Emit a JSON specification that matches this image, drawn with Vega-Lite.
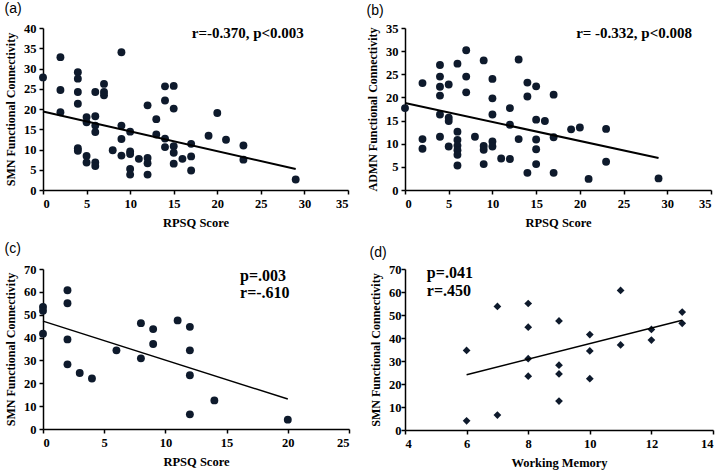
{
  "$schema": "https://vega.github.io/schema/vega-lite/v6.json",
  "background": "white",
  "padding": {"left": 4, "top": 2, "right": 1, "bottom": 1},
  "columns": 2,
  "spacing": {"row": 13, "column": 16},
  "datasets": {
    "a": [
      {"x":0,"y":27.8},{"x":2,"y":32.8},{"x":2,"y":24.7},{"x":2,"y":19.2},
      {"x":4,"y":29.1},{"x":4,"y":27.5},{"x":4,"y":24.2},{"x":4,"y":21.3},{"x":4,"y":10.3},{"x":4,"y":9.7},
      {"x":5,"y":18.0},{"x":5,"y":16.7},{"x":5,"y":8.4},{"x":5,"y":6.8},
      {"x":6,"y":24.2},{"x":6,"y":18.2},{"x":6,"y":15.9},{"x":6,"y":14.3},{"x":6,"y":6.8},{"x":6,"y":5.9},
      {"x":7,"y":26.2},{"x":7,"y":24.2},{"x":7,"y":23.4},{"x":8,"y":9.8},
      {"x":9,"y":34.0},{"x":9,"y":15.9},{"x":9,"y":12.6},{"x":9,"y":8.5},
      {"x":10,"y":14.4},{"x":10,"y":9.5},{"x":10,"y":8.9},{"x":10,"y":5.2},{"x":10,"y":3.8},
      {"x":11,"y":7.7},{"x":12,"y":20.9},{"x":12,"y":7.9},{"x":12,"y":6.6},{"x":12,"y":3.8},
      {"x":13,"y":17.5},{"x":13,"y":13.7},
      {"x":14,"y":25.6},{"x":14,"y":22.1},{"x":14,"y":12.7},{"x":14,"y":10.6},
      {"x":15,"y":25.7},{"x":15,"y":20.1},{"x":15,"y":10.8},{"x":15,"y":9.2},{"x":15,"y":6.5},
      {"x":16,"y":7.7},{"x":17,"y":11.4},{"x":17,"y":8.3},{"x":17,"y":4.8},
      {"x":19,"y":13.4},{"x":20,"y":19.0},{"x":21,"y":12.4},{"x":23,"y":11.0},{"x":23,"y":7.5},{"x":29,"y":2.6}
    ],
    "a_fit": [{"x":0,"y":19.4},{"x":29,"y":5.2}],
    "b": [
      {"x":0,"y":17.7},{"x":2,"y":23.1},{"x":2,"y":11.0},{"x":2,"y":8.9},
      {"x":4,"y":27.0},{"x":4,"y":24.5},{"x":4,"y":22.3},{"x":4,"y":20.4},{"x":4,"y":16.3},{"x":4,"y":11.5},
      {"x":5,"y":22.8},{"x":5,"y":15.6},{"x":5,"y":14.9},{"x":5,"y":9.4},
      {"x":6,"y":27.3},{"x":6,"y":12.6},{"x":6,"y":10.8},{"x":6,"y":9.6},{"x":6,"y":8.6},{"x":6,"y":7.6},{"x":6,"y":5.3},
      {"x":7,"y":30.2},{"x":7,"y":24.5},{"x":7,"y":21.1},{"x":8,"y":11.5},
      {"x":9,"y":28.0},{"x":9,"y":9.5},{"x":9,"y":8.7},{"x":9,"y":5.6},
      {"x":10,"y":24.0},{"x":10,"y":19.8},{"x":10,"y":16.3},{"x":10,"y":10.5},{"x":10,"y":9.4},
      {"x":11,"y":6.8},{"x":12,"y":17.7},{"x":12,"y":14.1},{"x":12,"y":6.7},
      {"x":13,"y":28.2},{"x":13,"y":11.0},
      {"x":14,"y":23.2},{"x":14,"y":20.2},{"x":14,"y":3.7},
      {"x":15,"y":22.4},{"x":15,"y":15.2},{"x":15,"y":10.9},{"x":15,"y":8.8},{"x":15,"y":5.6},
      {"x":16,"y":14.9},{"x":17,"y":20.6},{"x":17,"y":11.4},{"x":17,"y":3.7},
      {"x":19,"y":13.1},{"x":20,"y":13.5},{"x":21,"y":2.4},{"x":23,"y":13.2},{"x":23,"y":6.1},{"x":29,"y":2.5}
    ],
    "b_fit": [{"x":0,"y":18.8},{"x":29,"y":6.9}],
    "c": [
      {"x":0,"y":53.4},{"x":0,"y":51.7},{"x":0,"y":41.7},
      {"x":2,"y":60.7},{"x":2,"y":55.0},{"x":2,"y":39.2},{"x":2,"y":28.3},
      {"x":3,"y":24.5},{"x":4,"y":22.1},{"x":6,"y":34.4},
      {"x":8,"y":46.3},{"x":8,"y":30.9},{"x":9,"y":43.7},{"x":9,"y":37.2},
      {"x":11,"y":47.5},{"x":12,"y":44.7},{"x":12,"y":34.4},{"x":12,"y":23.5},{"x":12,"y":6.4},
      {"x":14,"y":12.5},{"x":20,"y":4.1}
    ],
    "c_fit": [{"x":0,"y":47.2},{"x":20,"y":13.1}],
    "d": [
      {"x":6,"y":34.6},{"x":6,"y":4.0},{"x":7,"y":53.7},{"x":7,"y":6.5},
      {"x":8,"y":55.0},{"x":8,"y":44.7},{"x":8,"y":31.0},{"x":8,"y":23.4},
      {"x":9,"y":47.4},{"x":9,"y":28.2},{"x":9,"y":24.4},{"x":9,"y":12.6},
      {"x":10,"y":41.5},{"x":10,"y":34.4},{"x":10,"y":22.3},
      {"x":11,"y":60.7},{"x":11,"y":37.0},{"x":12,"y":43.7},{"x":12,"y":39.1},
      {"x":13,"y":51.3},{"x":13,"y":46.4}
    ],
    "d_fit": [{"x":6,"y":24.0},{"x":13,"y":47.7}]
  },
  "config": {
    "view": {"stroke": null},
    "axis": {
      "grid": false, "labelOverlap": false,
      "domainColor": "black", "domainWidth": 1.5,
      "tickColor": "black", "tickWidth": 1.5, "tickSize": 4,
      "labelFont": "Liberation Serif", "labelFontWeight": "bold", "labelFontSize": 12.5, "labelColor": "black",
      "labelPadding": 3,
      "titleFont": "Liberation Serif", "titleFontWeight": "bold", "titleFontSize": 12.5, "titleColor": "black"
    },
    "axisX": {"titlePadding": 7},
    "axisY": {"titlePadding": 6, "titleFontSize": 12},
    "title": {"font": "Liberation Sans", "fontWeight": "normal", "fontSize": 14, "anchor": "start", "frame": "bounds", "color": "black"},
    "text": {"font": "Liberation Serif", "fontWeight": "bold", "color": "black"}
  },
  "concat": [
    {
      "title": {"text": "(a)", "offset": 5.75},
      "width": 305, "height": 162,
      "encoding": {
        "x": {"field": "x", "type": "quantitative", "scale": {"domain": [0, 35], "nice": false}, "axis": {"values": [0,5,10,15,20,25,30,35], "title": "RPSQ Score"}},
        "y": {"field": "y", "type": "quantitative", "scale": {"domain": [0, 40], "nice": false}, "axis": {"values": [0,5,10,15,20,25,30,35,40], "title": "SMN Functional Connectivity"}}
      },
      "layer": [
        {"data": {"name": "a"}, "mark": {"type": "circle", "size": 62, "color": "#0e1a2c", "opacity": 1}},
        {"data": {"name": "a_fit"}, "mark": {"type": "line", "color": "black", "strokeWidth": 2}},
        {"data": {"values": [{"x": 23.5, "y": 38.8, "label": "r=-0.370, p<0.003"}]}, "mark": {"type": "text", "fontSize": 15, "align": "center", "baseline": "middle"},
         "encoding": {"text": {"field": "label"}}}
      ]
    },
    {
      "title": {"text": "(b)", "offset": 3.75},
      "width": 306, "height": 162,
      "encoding": {
        "x": {"field": "x", "type": "quantitative", "scale": {"domain": [0, 35], "nice": false}, "axis": {"values": [0,5,10,15,20,25,30,35], "title": "RPSQ Score"}},
        "y": {"field": "y", "type": "quantitative", "scale": {"domain": [0, 35], "nice": false}, "axis": {"values": [0,5,10,15,20,25,30,35], "title": "ADMN Functional Connectivity"}}
      },
      "layer": [
        {"data": {"name": "b"}, "mark": {"type": "circle", "size": 62, "color": "#0e1a2c", "opacity": 1}},
        {"data": {"name": "b_fit"}, "mark": {"type": "line", "color": "black", "strokeWidth": 2}},
        {"data": {"values": [{"x": 26.2, "y": 34.0, "label": "r= -0.332, p<0.008"}]}, "mark": {"type": "text", "fontSize": 15, "align": "center", "baseline": "middle"},
         "encoding": {"text": {"field": "label"}}}
      ]
    },
    {
      "title": {"text": "(c)", "offset": 6.75},
      "width": 306, "height": 160,
      "encoding": {
        "x": {"field": "x", "type": "quantitative", "scale": {"domain": [0, 25], "nice": false}, "axis": {"values": [0,5,10,15,20,25], "title": "RPSQ Score"}},
        "y": {"field": "y", "type": "quantitative", "scale": {"domain": [0, 70], "nice": false}, "axis": {"values": [0,10,20,30,40,50,60,70], "title": "SMN Functional Connectivity"}}
      },
      "layer": [
        {"data": {"name": "c"}, "mark": {"type": "circle", "size": 62, "color": "#0e1a2c", "opacity": 1}},
        {"data": {"name": "c_fit"}, "mark": {"type": "line", "color": "black", "strokeWidth": 1.5}},
        {"data": {"values": [{"x": 16.1, "y": 67.0, "label": "p=.003"}, {"x": 16.1, "y": 59.3, "label": "r=-.610"}]}, "mark": {"type": "text", "fontSize": 16, "align": "left", "baseline": "middle"},
         "encoding": {"text": {"field": "label"}}}
      ]
    },
    {
      "title": {"text": "(d)", "offset": 2.75},
      "width": 308, "height": 161,
      "encoding": {
        "x": {"field": "x", "type": "quantitative", "scale": {"domain": [4, 14], "nice": false, "zero": false}, "axis": {"values": [4,6,8,10,12,14], "title": "Working Memory"}},
        "y": {"field": "y", "type": "quantitative", "scale": {"domain": [0, 70], "nice": false}, "axis": {"values": [0,10,20,30,40,50,60,70], "title": "SMN Functional Connectivity", "labelPadding": 0}}
      },
      "layer": [
        {"data": {"name": "d"}, "mark": {"type": "point", "shape": "diamond", "filled": true, "size": 60, "color": "#0e1a2c", "opacity": 1}},
        {"data": {"name": "d_fit"}, "mark": {"type": "line", "color": "black", "strokeWidth": 1.5}},
        {"data": {"values": [{"x": 4.71, "y": 68.2, "label": "p=.041"}, {"x": 4.71, "y": 60.4, "label": "r=.450"}]}, "mark": {"type": "text", "fontSize": 16, "align": "left", "baseline": "middle"},
         "encoding": {"text": {"field": "label"}}}
      ]
    }
  ]
}
